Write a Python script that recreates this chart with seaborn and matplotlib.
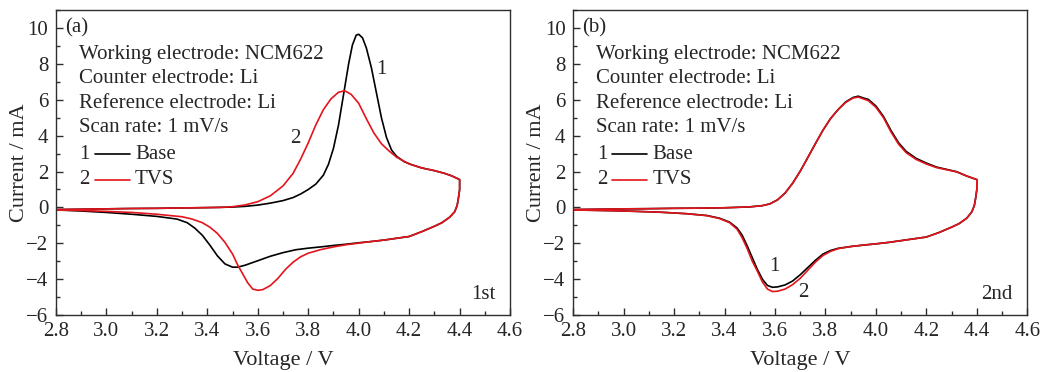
import numpy as np
import pandas as pd
import matplotlib
matplotlib.use("Agg")
import matplotlib.pyplot as plt
from matplotlib.lines import Line2D
from matplotlib.ticker import MultipleLocator
import seaborn as sns

# ---- data (forward scan then reverse scan) ----
# panel (a), 1st cycle
a_base_v = [2.80, 2.90, 3.00, 3.10, 3.20, 3.30, 3.40, 3.50, 3.55, 3.60, 3.65, 3.70, 3.74, 3.77,
            3.80, 3.83, 3.86, 3.88, 3.90, 3.92, 3.94, 3.96, 3.975, 3.99, 4.00, 4.015, 4.03, 4.05,
            4.07, 4.09, 4.11, 4.13, 4.15, 4.18, 4.21, 4.25, 4.30, 4.34, 4.37, 4.40,
            4.40, 4.395, 4.39, 4.38, 4.36, 4.33, 4.30, 4.25, 4.20, 4.15, 4.10, 4.05, 4.00, 3.95,
            3.90, 3.85, 3.80, 3.75, 3.70, 3.65, 3.60, 3.55, 3.52, 3.50, 3.47, 3.44, 3.41, 3.38,
            3.35, 3.32, 3.28, 3.20, 3.10, 3.00, 2.90, 2.80]
a_base_i = [-0.12, -0.10, -0.08, -0.06, -0.05, -0.03, -0.01, 0.02, 0.06, 0.13, 0.24, 0.38, 0.55, 0.75,
            1.0, 1.3, 1.8, 2.4, 3.3, 4.6, 6.3, 8.0, 9.05, 9.6, 9.65, 9.45, 8.9, 7.8,
            6.4, 5.0, 3.9, 3.2, 2.85, 2.55, 2.38, 2.2, 2.05, 1.9, 1.75, 1.55,
            1.0, 0.5, 0.1, -0.25, -0.55, -0.85, -1.05, -1.35, -1.62, -1.72, -1.82, -1.9, -1.97, -2.05,
            -2.12, -2.2, -2.27, -2.36, -2.52, -2.72, -2.97, -3.22, -3.33, -3.33, -3.15, -2.7, -2.1, -1.55,
            -1.15, -0.85, -0.65, -0.5, -0.38, -0.28, -0.2, -0.14]

a_tvs_v = [2.80, 2.90, 3.00, 3.10, 3.20, 3.30, 3.40, 3.45, 3.50, 3.55, 3.60, 3.65, 3.70, 3.74,
           3.77, 3.80, 3.83, 3.86, 3.89, 3.92, 3.945, 3.97, 4.00, 4.03, 4.06, 4.09, 4.12, 4.15,
           4.20, 4.25, 4.30, 4.34, 4.37, 4.40,
           4.40, 4.395, 4.39, 4.38, 4.36, 4.33, 4.30, 4.25, 4.20, 4.15, 4.10, 4.05, 4.00, 3.95,
           3.90, 3.85, 3.80, 3.77, 3.74, 3.71, 3.68, 3.65, 3.62, 3.60, 3.58, 3.56, 3.54, 3.52,
           3.50, 3.47, 3.44, 3.41, 3.38, 3.34, 3.30, 3.20, 3.10, 3.00, 2.90, 2.80]
a_tvs_i = [-0.12, -0.10, -0.08, -0.06, -0.05, -0.03, -0.01, 0.0, 0.04, 0.14, 0.32, 0.65, 1.2, 1.9,
           2.7, 3.6, 4.6, 5.45, 6.05, 6.42, 6.5, 6.3, 5.8, 4.95, 4.15, 3.55, 3.15, 2.8,
           2.42, 2.2, 2.05, 1.9, 1.75, 1.55,
           1.0, 0.5, 0.1, -0.25, -0.55, -0.85, -1.05, -1.35, -1.62, -1.72, -1.82, -1.9, -1.99, -2.08,
           -2.2, -2.35, -2.55, -2.75, -3.05, -3.45, -3.95, -4.35, -4.58, -4.62, -4.55, -4.2, -3.7, -3.2,
           -2.6, -1.95, -1.45, -1.1, -0.85, -0.65, -0.52, -0.38, -0.28, -0.22, -0.17, -0.14]

# panel (b), 2nd cycle
b_base_v = [2.80, 2.90, 3.00, 3.10, 3.20, 3.30, 3.40, 3.50, 3.55, 3.58, 3.61, 3.64, 3.67, 3.70,
            3.73, 3.76, 3.79, 3.82, 3.85, 3.88, 3.91, 3.93, 3.95, 3.97, 4.00, 4.03, 4.06, 4.09,
            4.12, 4.16, 4.20, 4.24, 4.28, 4.32, 4.36, 4.40,
            4.40, 4.395, 4.39, 4.38, 4.36, 4.33, 4.30, 4.25, 4.20, 4.15, 4.10, 4.05, 4.00, 3.95,
            3.90, 3.85, 3.82, 3.79, 3.76, 3.73, 3.70, 3.67, 3.64, 3.61, 3.59, 3.57, 3.55, 3.53,
            3.51, 3.49, 3.47, 3.45, 3.42, 3.38, 3.33, 3.25, 3.15, 3.05, 2.95, 2.80]
b_base_i = [-0.12, -0.10, -0.08, -0.07, -0.05, -0.04, -0.02, 0.03, 0.1, 0.2, 0.42, 0.8, 1.35, 2.02,
            2.78, 3.55, 4.3, 4.95, 5.45, 5.88, 6.13, 6.2, 6.1, 6.02, 5.65, 5.07, 4.28, 3.6,
            3.12, 2.73, 2.47, 2.25, 2.12, 1.99, 1.75, 1.55,
            1.0, 0.5, 0.1, -0.25, -0.6, -0.9, -1.1, -1.4, -1.65, -1.75, -1.85, -1.95, -2.03, -2.1,
            -2.18, -2.28, -2.4, -2.6, -2.95, -3.35, -3.75, -4.1, -4.32, -4.43, -4.45, -4.35, -4.0, -3.45,
            -2.8, -2.15, -1.55, -1.15, -0.82, -0.6, -0.45, -0.35, -0.27, -0.22, -0.18, -0.14]

b_tvs_v = b_base_v
b_tvs_i = [-0.12, -0.10, -0.08, -0.07, -0.05, -0.04, -0.02, 0.03, 0.1, 0.2, 0.42, 0.8, 1.35, 2.02,
           2.78, 3.55, 4.3, 4.95, 5.45, 5.85, 6.1, 6.15, 6.05, 5.95, 5.58, 5.0, 4.2, 3.52,
           3.05, 2.67, 2.42, 2.22, 2.1, 1.98, 1.75, 1.55,
           1.0, 0.5, 0.1, -0.25, -0.6, -0.9, -1.1, -1.4, -1.65, -1.75, -1.85, -1.95, -2.03, -2.1,
           -2.18, -2.3, -2.45, -2.68, -3.05, -3.5, -3.95, -4.3, -4.55, -4.67, -4.69, -4.55, -4.15, -3.55,
           -3.0, -2.3, -1.7, -1.22, -0.85, -0.62, -0.46, -0.35, -0.27, -0.22, -0.18, -0.14]

samples = ["Base", "TVS"]
colors = {"Base": "black", "TVS": "#e3141c"}
info_lines = ["Working electrode: NCM622", "Counter electrode: Li",
              "Reference electrode: Li", "Scan rate: 1 mV/s"]
x_ticks = [2.8, 3.0, 3.2, 3.4, 3.6, 3.8, 4.0, 4.2, 4.4, 4.6]
y_ticks = [-6, -4, -2, 0, 2, 4, 6, 8, 10]


def make_frame(base_v, base_i, tvs_v, tvs_i):
    parts = []
    for name, v, i in [("Base", base_v, base_i), ("TVS", tvs_v, tvs_i)]:
        parts.append(pd.DataFrame({"V": v, "I": i, "sample": name, "step": range(len(v))}))
    return pd.concat(parts, ignore_index=True)


panels = [
    {"df": make_frame(a_base_v, a_base_i, a_tvs_v, a_tvs_i), "tag": "(a)", "cycle": "1st",
     "labels": [("1", 4.09, 7.66), ("2", 3.75, 3.85)],
     "rect": [0.0536, 0.153, 0.435, 0.820]},
    {"df": make_frame(b_base_v, b_base_i, b_tvs_v, b_tvs_i), "tag": "(b)", "cycle": "2nd",
     "labels": [("1", 3.596, -3.3), ("2", 3.712, -4.75)],
     "rect": [0.549, 0.153, 0.435, 0.820]},
]

sns.set_theme(style="ticks")
plt.rcParams["font.family"] = ["Liberation Serif", "DejaVu Serif"]
fs = 15

fig = plt.figure(figsize=(10.44, 3.72), dpi=100)
spine_col = "#2e2e2e"

for p in panels:
    ax = fig.add_axes(p["rect"])
    sns.lineplot(data=p["df"], x="V", y="I", hue="sample", units="sample", estimator=None,
                 sort=False, palette=colors, hue_order=samples, legend=False,
                 linewidth=1.2, ax=ax)
    ax.set_xlim(2.8, 4.6)
    ax.set_ylim(-6, 11)
    ax.set_xticks(x_ticks)
    ax.set_yticks(y_ticks)
    ax.set_xticklabels([f"{t:.1f}" for t in x_ticks])
    ax.set_yticklabels([f"{t}".replace("-", "\u2212") for t in y_ticks])
    ax.xaxis.set_minor_locator(MultipleLocator(0.1))
    ax.yaxis.set_minor_locator(MultipleLocator(1))
    ax.tick_params(which="both", direction="in", labelsize=fs, color=spine_col,
                   top=False, right=False)
    ax.tick_params(which="major", length=5, width=1)
    ax.tick_params(axis="y", which="major", pad=5.5)
    ax.tick_params(axis="x", which="major", pad=5)
    ax.tick_params(which="minor", length=3, width=1)
    for s in ax.spines.values():
        s.set_color(spine_col)
        s.set_linewidth(1.0)
    ax.set_xlabel("Voltage / V", fontsize=16, labelpad=7)
    ax.set_ylabel("Current / mA", fontsize=16, labelpad=-2)

    ax.text(0.02, 0.942, p["tag"], transform=ax.transAxes, fontsize=fs, va="center")
    for k, line in enumerate(info_lines):
        ax.text(0.05, 0.855 - k * 0.08, line, transform=ax.transAxes, fontsize=fs, va="center")
    for k, name in enumerate(samples):
        y = 0.528 - k * 0.085
        ax.text(0.052, y, str(k + 1), transform=ax.transAxes, fontsize=fs, va="center")
        ax.add_line(Line2D([0.086, 0.162], [y, y], transform=ax.transAxes,
                           color=colors[name], linewidth=1.2))
        ax.text(0.174, y, name, transform=ax.transAxes, fontsize=fs, va="center")
    ax.text(0.968, 0.066, p["cycle"], transform=ax.transAxes, fontsize=fs,
            va="center", ha="right")
    for lab, vx, iy in p["labels"]:
        ax.text(vx, iy, lab, fontsize=fs, ha="center", va="center")

fig.savefig("out.png", dpi=100)
